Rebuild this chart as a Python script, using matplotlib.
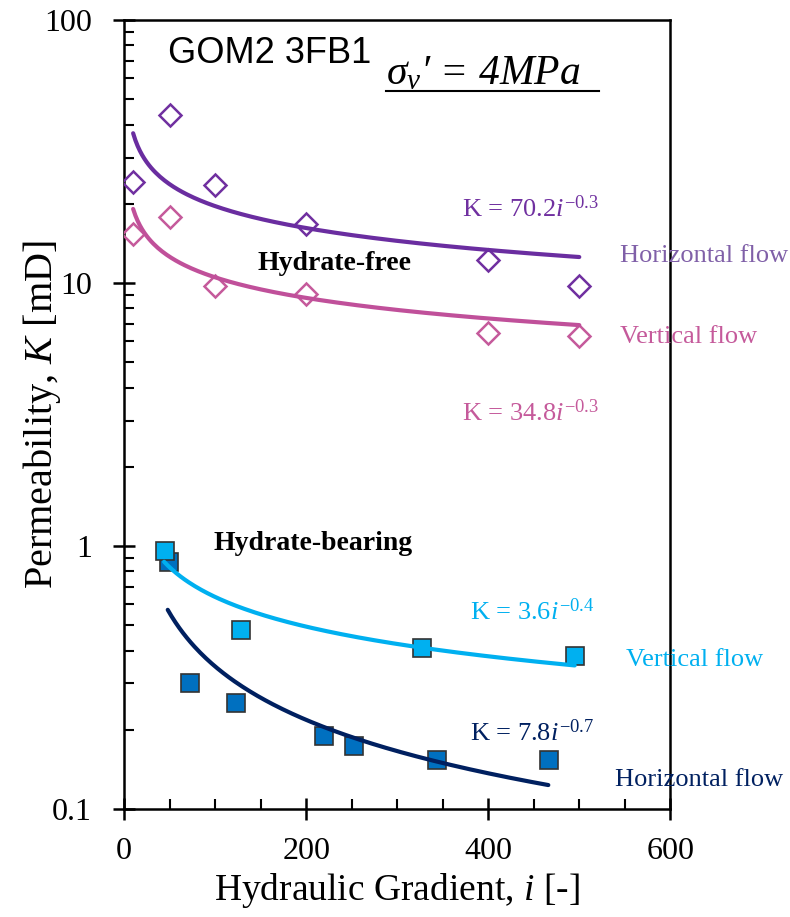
import numpy as np
import matplotlib
matplotlib.use("Agg")
import matplotlib.pyplot as plt
from matplotlib.ticker import MultipleLocator, LogLocator, NullFormatter, FixedLocator

plt.rcParams['font.family'] = ['Liberation Serif', 'DejaVu Serif']
plt.rcParams['mathtext.fontset'] = 'custom'
plt.rcParams['mathtext.rm'] = 'Liberation Serif'
plt.rcParams['mathtext.it'] = 'Liberation Serif:italic'
plt.rcParams['mathtext.bf'] = 'Liberation Serif:bold'

# hydrate-free, horizontal flow
hf_h_i = [10, 50, 100, 200, 400, 500]
hf_h_k = [24.2, 43.4, 23.5, 16.8, 12.2, 9.7]
# hydrate-free, vertical flow
hf_v_i = [10, 50, 100, 200, 400, 500]
hf_v_k = [15.4, 17.8, 9.7, 9.1, 6.45, 6.3]
# hydrate-bearing, vertical flow
hb_v_i = [45, 128, 327, 495]
hb_v_k = [0.96, 0.48, 0.41, 0.38]
# hydrate-bearing, horizontal flow
hb_h_i = [49, 72, 123, 220, 253, 344, 467]
hb_h_k = [0.87, 0.30, 0.254, 0.189, 0.173, 0.153, 0.153]

# power-law trend lines K = a * i^b  (a, b, i_start, i_end)
fit_hf_h = (70.2, -0.277, 10, 500)
fit_hf_v = (34.8, -0.26, 10, 500)
fit_hb_v = (3.6, -0.375, 44, 495)
fit_hb_h = (7.8, -0.675, 48, 466)

c_purple = '#7030A0'
c_pink = '#C55A9B'
c_lblue = '#00B0F0'
c_dblue = '#0070C0'
c_navy = '#002060'

fig = plt.figure(figsize=(7.9, 9.17), dpi=100)
ax = fig.add_axes([0.157, 0.1178, 0.6915, 0.8604])


def trend(fit, color):
    a, b, i0, i1 = fit
    ii = np.linspace(i0, i1, 200)
    ax.plot(ii, a * ii ** b, color=color, lw=3, zorder=4, solid_capstyle='round')


ax.plot(hf_h_i, hf_h_k, 'D', ms=11, mfc='none', mec=c_purple, mew=1.8, zorder=3)
ax.plot(hf_v_i, hf_v_k, 'D', ms=11, mfc='none', mec=c_pink, mew=1.8, zorder=3)
ax.plot(hb_h_i, hb_h_k, 's', ms=13, mfc=c_dblue, mec='#333333', mew=1.2, zorder=3)
ax.plot(hb_v_i, hb_v_k, 's', ms=13, mfc=c_lblue, mec='#333333', mew=1.2, zorder=3)

trend(fit_hf_h, '#6A2DA0')
trend(fit_hf_v, '#C0509A')
trend(fit_hb_v, c_lblue)
trend(fit_hb_h, c_navy)

ax.set_yscale('log')
ax.set_xlim(0, 600)
ax.set_ylim(0.1, 100)
ax.xaxis.set_major_locator(FixedLocator([0, 200, 400, 600]))
ax.xaxis.set_minor_locator(MultipleLocator(50))
ax.yaxis.set_major_locator(FixedLocator([0.1, 1, 10, 100]))
ax.yaxis.set_minor_locator(LogLocator(base=10, subs=np.arange(2, 10)))
ax.yaxis.set_minor_formatter(NullFormatter())
ax.set_yticklabels(['0.1', '1', '10', '100'])

for s in ax.spines.values():
    s.set_linewidth(1.8)
ax.tick_params(which='major', direction='inout', length=16, width=1.8, labelsize=23)
ax.tick_params(axis='y', which='major', pad=15)
ax.tick_params(axis='x', which='major', pad=12)
ax.tick_params(which='minor', direction='in', length=7, width=1.5)

ax.set_xlabel('Hydraulic Gradient, $\\mathit{i}$ [-]', fontsize=27, labelpad=4)
ax.set_ylabel('Permeability, $\\mathit{K}$ [mD]', fontsize=29)
ax.yaxis.set_label_coords(-0.112, 0.5)

ax.text(48.6, 68.6, 'GOM2 3FB1', fontsize=26, family='Liberation Sans', va='baseline')
ax.text(288, 57.1, '$\\sigma_{v}$\u2032 = 4MPa', fontsize=30, style='italic', va='baseline')
ax.plot([288, 522], [53.5, 53.5], color='black', lw=1.5, clip_on=False)

ax.text(147, 11.24, 'Hydrate-free', fontsize=20, weight='bold', va='baseline')
ax.text(98, 0.967, 'Hydrate-bearing', fontsize=20, weight='bold', va='baseline')

ax.text(371, 17.9, 'K = 70.2$\\mathit{i}^{\\mathrm{-0.3}}$', fontsize=19, color=c_purple, va='baseline')
ax.text(371, 3.0, 'K = 34.8$\\mathit{i}^{\\mathrm{-0.3}}$', fontsize=19, color=c_pink, va='baseline')
ax.text(380, 0.525, 'K = 3.6$\\mathit{i}^{\\mathrm{-0.4}}$', fontsize=19, color=c_lblue, va='baseline')
ax.text(380, 0.1816, 'K = 7.8$\\mathit{i}^{\\mathrm{-0.7}}$', fontsize=19, color=c_navy, va='baseline')

ax.text(545, 11.99, 'Horizontal flow', fontsize=19, color='#8060A8', va='baseline', clip_on=False)
ax.text(545, 5.93, 'Vertical flow', fontsize=19, color=c_pink, va='baseline', clip_on=False)
ax.text(551, 0.35, 'Vertical flow', fontsize=19, color=c_lblue, va='baseline', clip_on=False)
ax.text(539, 0.1219, 'Horizontal flow', fontsize=19, color=c_navy, va='baseline', clip_on=False)

fig.savefig('out.png', dpi=100)
